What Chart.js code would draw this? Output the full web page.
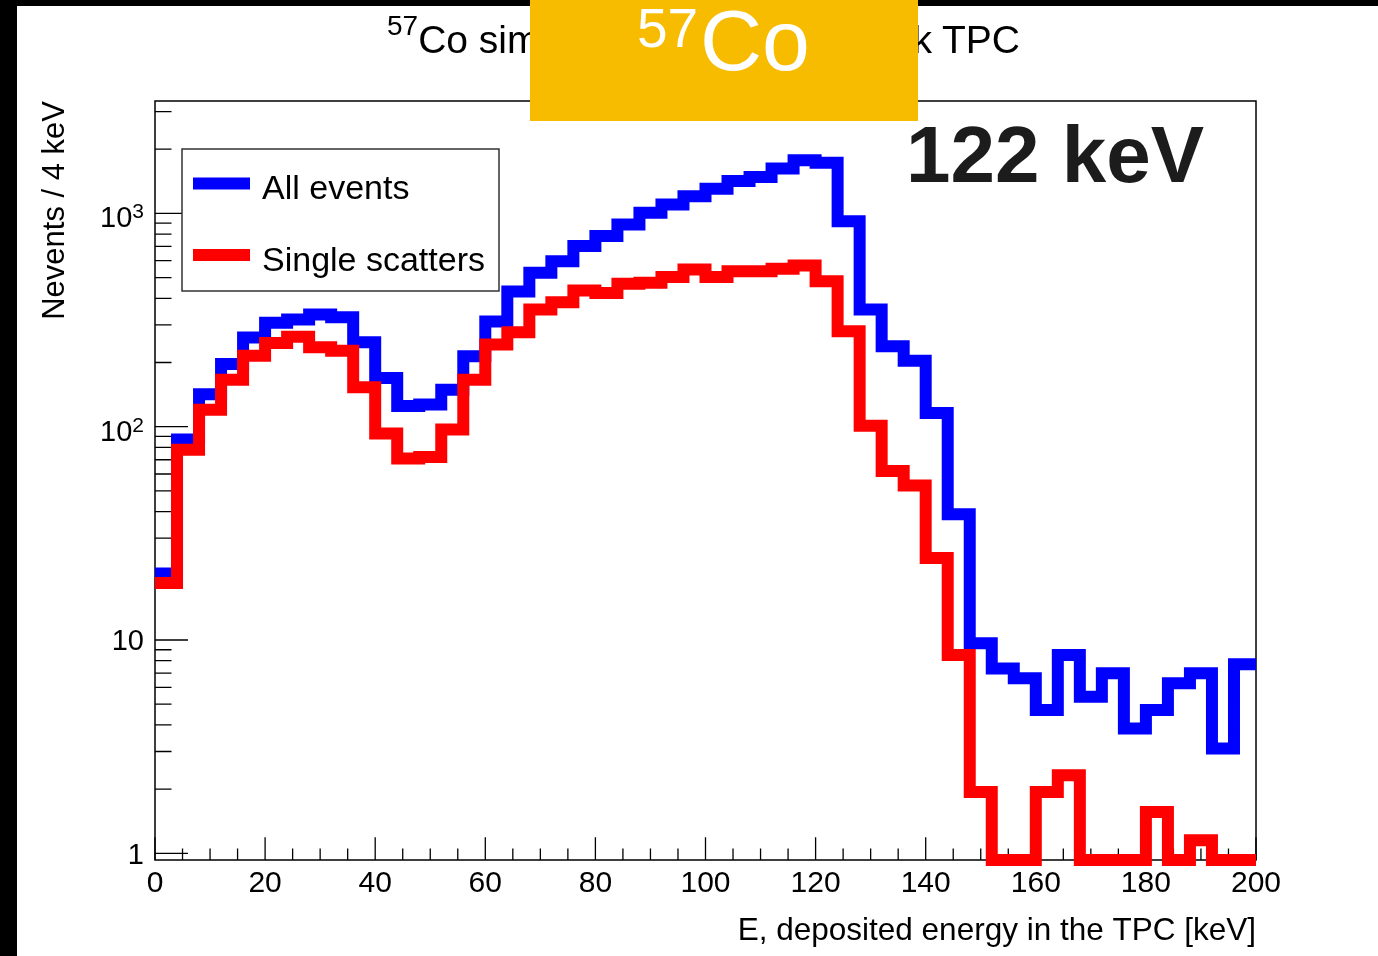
<!DOCTYPE html>
<html>
<head>
<meta charset="utf-8">
<script src="https://cdn.jsdelivr.net/npm/chart.js@4.4.0/dist/chart.umd.min.js"></script>
<style>
  body { margin: 0; background: #fff; }
  #wrap { position: relative; width: 1378px; height: 956px; overflow: hidden; background: #fff;
          font-family: "Liberation Sans", Arial, Helvetica, sans-serif; }
  #chartBox { position: absolute; left: 0; top: 0; width: 1378px; height: 956px; }
  .bar { position: absolute; background: #000; }
  #title { position: absolute; left: 387px; top: 20px; font-size: 39px; line-height: 1; white-space: nowrap; color: #000; }
  #title .sup { font-size: 28px; position: relative; top: -18px; }
  #badge { position: absolute; left: 530px; top: 0; width: 388px; height: 121px; background: #f7bb00; color: #fff; }
  #badge .iso { position: absolute; left: 107px; top: 1px; font-size: 55px; line-height: 1; }
  #badge .el { position: absolute; left: 170px; top: -3px; font-size: 86px; line-height: 1; }
  #energy { position: absolute; left: 906px; top: 115px; font-size: 80px; font-weight: bold; line-height: 1; color: #1c1c1c; white-space: nowrap; }
</style>
</head>
<body>
<div id="wrap">
  <div id="chartBox"><canvas id="myChart"></canvas></div>
  <div class="bar" style="left:0;top:0;width:17px;height:956px"></div>
  <div class="bar" style="left:0;top:0;width:1378px;height:6px"></div>
  <div id="title"><span class="sup">57</span>Co simulation in a benchmark TPC</div>
  <div id="badge"><span class="iso">57</span><span class="el">Co</span></div>
  <div id="energy">122 keV</div>
</div>
<script>
// lower bin edges, 4 keV bins
const binLow = [0, 4, 8, 12, 16, 20, 24, 28, 32, 36, 40, 44, 48, 52, 56, 60, 64, 68, 72, 76,
  80, 84, 88, 92, 96, 100, 104, 108, 112, 116, 120, 124, 128, 132, 136, 140, 144, 148, 152, 156,
  160, 164, 168, 172, 176, 180, 184, 188, 192, 196];
const binHigh = 200;

const allEvents = [20.5, 87, 142, 197, 262, 307, 318, 336, 326, 249,
  169, 125, 127, 149, 214, 311, 430, 527, 597, 703,
  783, 888, 1007, 1101, 1205, 1305, 1418, 1482, 1622, 1775,
  1730, 920, 354, 238, 204, 116, 38.9, 9.65, 7.36, 6.61,
  4.69, 8.5, 5.42, 6.98, 3.85, 4.69, 6.26, 6.98, 3.1, 7.69];

const singleScatters = [18.5, 78, 120, 166, 215, 247, 264, 236, 227, 153,
  93, 71, 72, 97, 166, 243, 277, 354, 383, 435,
  424, 468, 473, 503, 546, 503, 536, 536, 550, 570,
  481, 280, 101, 62, 53, 24.2, 8.5, 1.94, 0, 0,
  1.94, 2.32, 0, 0, 0, 1.56, 0, 1.15, 0, 0];

const xTickValues = [0, 20, 40, 60, 80, 100, 120, 140, 160, 180, 200];
const yTickValues = [1, 10, 100, 1000];
const yTickBase = ['1', '10', '10', '10'];
const yTickExp = ['', '', '2', '3'];

const Y_MIN = 0.93;
const Y_MAX = 3365;

// histogram outline: value of each bin held until the next edge
function toSteps(vals) {
  const pts = binLow.map((x, i) => ({ x: x, y: vals[i] > 0 ? vals[i] : Y_MIN }));
  pts.push({ x: binHigh, y: pts[pts.length - 1].y });
  return pts;
}

const FONT = '"Liberation Sans", Arial, Helvetica, sans-serif';

// ROOT-like frame with inside ticks and 10^n labels
const rootAxes = {
  id: 'rootAxes',
  beforeDatasetsDraw(chart) {
    const { ctx, chartArea: a, scales: { x, y } } = chart;
    const w = a.right - a.left, h = a.bottom - a.top;
    ctx.save();
    ctx.strokeStyle = '#000';
    ctx.lineWidth = 1.3;
    ctx.beginPath();
    for (let v = 0; v <= 200; v += 5) {
      const px = x.getPixelForValue(v);
      const len = v % 20 === 0 ? h * 0.03 : h * 0.015;
      ctx.moveTo(px, a.bottom);
      ctx.lineTo(px, a.bottom - len);
    }
    for (let d = 1; d <= 1000; d *= 10) {
      for (let m = 1; m <= 9; m++) {
        const v = d * m;
        if (v < Y_MIN || v > Y_MAX) continue;
        const py = y.getPixelForValue(v);
        const len = m === 1 ? w * 0.03 : w * 0.015;
        ctx.moveTo(a.left, py);
        ctx.lineTo(a.left + len, py);
      }
    }
    ctx.stroke();
    ctx.lineWidth = 1.5;
    ctx.strokeRect(a.left, a.top, w, h);

    // y labels with raised exponents
    ctx.fillStyle = '#000';
    ctx.textBaseline = 'alphabetic';
    ctx.textAlign = 'right';
    yTickValues.forEach((v, i) => {
      const py = y.getPixelForValue(v);
      let right = a.left - 11;
      let base = py + 10.5;
      if (yTickExp[i]) {
        ctx.font = '21px ' + FONT;
        ctx.fillText(yTickExp[i], right, py + 5);
        right -= ctx.measureText(yTickExp[i]).width;
        base = py + 14;
      }
      ctx.font = '29px ' + FONT;
      ctx.fillText(yTickBase[i], right, base);
    });
    ctx.restore();
  }
};

const rootLegend = {
  id: 'rootLegend',
  afterDraw(chart) {
    const { ctx } = chart;
    ctx.save();
    ctx.fillStyle = '#fff';
    ctx.fillRect(182, 149, 317, 142);
    ctx.strokeStyle = '#333';
    ctx.lineWidth = 1.5;
    ctx.strokeRect(182, 149, 317, 142);
    chart.data.datasets.forEach((ds, i) => {
      const yc = 183.5 + i * 71.5;
      ctx.strokeStyle = ds.borderColor;
      ctx.lineWidth = 12;
      ctx.beginPath();
      ctx.moveTo(193, yc);
      ctx.lineTo(250, yc);
      ctx.stroke();
      ctx.fillStyle = '#000';
      ctx.font = '34px ' + FONT;
      ctx.textBaseline = 'alphabetic';
      ctx.fillText(ds.label, 262, yc + 15.8);
    });
    ctx.restore();
  }
};

const ctx = document.getElementById('myChart').getContext('2d');
new Chart(ctx, {
  type: 'line',
  data: {
    datasets: [{
      label: 'All events',
      data: toSteps(allEvents),
      borderColor: '#0000ff',
      borderWidth: 12,
      stepped: true,
      pointRadius: 0,
      fill: false,
      clip: false,
      borderJoinStyle: 'miter',
      order: 2
    }, {
      label: 'Single scatters',
      data: toSteps(singleScatters),
      borderColor: '#ff0000',
      borderWidth: 12,
      stepped: true,
      pointRadius: 0,
      fill: false,
      clip: false,
      borderJoinStyle: 'miter',
      order: 1
    }]
  },
  options: {
    animation: false,
    responsive: true,
    maintainAspectRatio: false,
    layout: { padding: { top: 101, right: 122, left: 0, bottom: 0 } },
    plugins: { legend: { display: false }, tooltip: { enabled: false } },
    scales: {
      x: {
        type: 'linear',
        min: 0,
        max: 200,
        afterBuildTicks: s => { s.ticks = xTickValues.map(v => ({ value: v })); },
        afterFit: s => { s.height = 96; },
        grid: { display: false, drawTicks: false },
        border: { display: false },
        ticks: { color: '#000', font: { family: FONT, size: 30 }, padding: 6, maxRotation: 0, autoSkip: false },
        title: {
          display: true, text: 'E, deposited energy in the TPC [keV]', align: 'end',
          color: '#000', font: { family: FONT, size: 31.5 }, padding: { top: 0, bottom: 6 }
        }
      },
      y: {
        type: 'logarithmic',
        min: Y_MIN,
        max: Y_MAX,
        afterBuildTicks: s => { s.ticks = yTickValues.map(v => ({ value: v })); },
        afterFit: s => { s.width = 155; },
        grid: { display: false, drawTicks: false },
        border: { display: false },
        ticks: { display: false },
        title: {
          display: true, text: 'Nevents / 4 keV', align: 'end',
          color: '#000', font: { family: FONT, size: 31 }, padding: { top: 37, bottom: 0 }
        }
      }
    }
  },
  plugins: [rootAxes, rootLegend]
});
</script>
</body>
</html>
